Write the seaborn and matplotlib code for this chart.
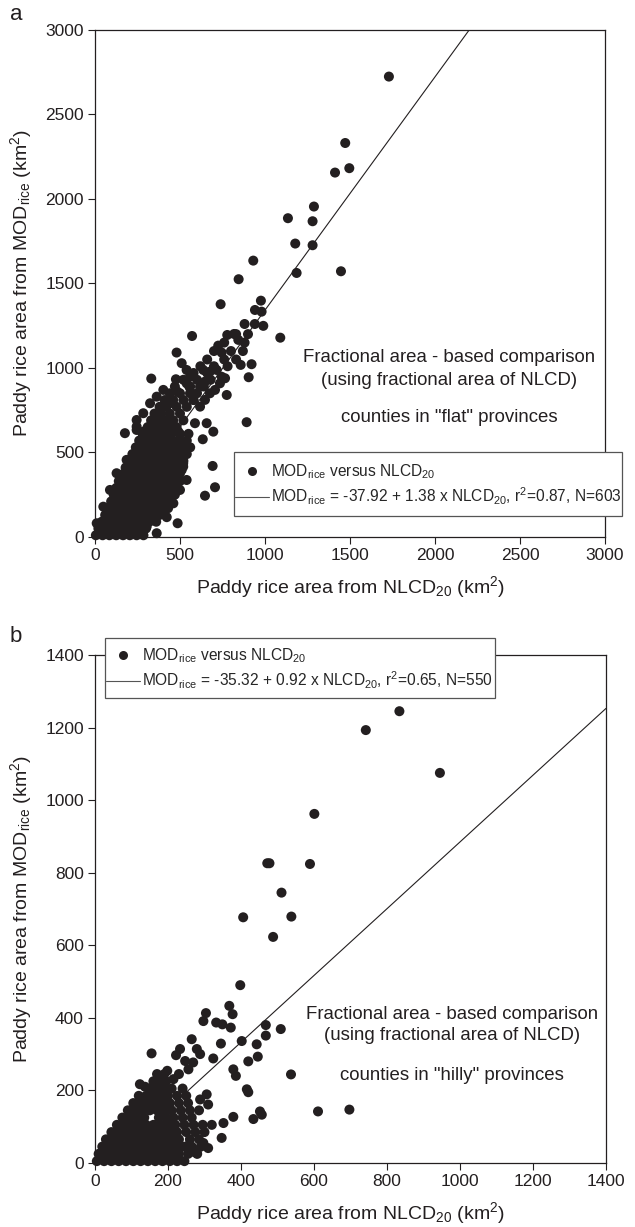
import matplotlib
matplotlib.use("Agg")
import matplotlib.pyplot as plt
import seaborn as sns
import pandas as pd
from matplotlib.lines import Line2D
from matplotlib.patches import Rectangle

# ---------------- data ----------------
# panel a: counties in "flat" provinces  (NLCD20 km2, MODrice km2)
flat_x = [
    1729, 1472, 1496, 1412, 1288, 1280, 1135, 1178, 1280, 931, 1186, 1447, 845,
    739, 976, 941, 980, 990, 1090, 571, 778, 818, 843, 725, 745, 480, 857, 921,
    904, 892, 331, 510, 539, 559, 637, 676, 716, 745, 775, 476, 484, 539, 555,
    402, 441, 363, 324, 284, 245, 176, 245, 588, 657, 696, 634, 692, 706, 647,
    486, 422, 539, 510, 441, 480, 519,
    618, 647, 676, 706, 735, 765, 618, 647, 559, 578,
    392, 431, 461, 490, 245, 284, 353, 304, 363, 422, 480, 519,
    186, 225, 265, 363, 441, 500, 127, 167, 245, 324, 402, 461, 500,
    88, 147, 206, 265, 343, 402, 461, 49, 108, 167, 225, 284, 343, 402,
    10, 69, 127, 186, 245, 304, 363,
    5, 45, 85, 125, 165, 205, 245, 285,
    20, 60, 100, 140, 180, 220, 260, 300,
    40, 80, 120, 160, 200, 240, 280, 320, 360,
    60, 100, 140, 180, 220, 260, 300, 340, 380,
    75, 115, 155, 195, 235, 275, 315, 355, 395, 430,
    95, 135, 175, 215, 255, 295, 335, 375, 415, 450,
    110, 150, 190, 230, 270, 310, 350, 390, 430, 470,
    125, 165, 205, 245, 285, 325, 365, 405, 445, 485,
    140, 180, 220, 260, 300, 340, 380, 420, 460, 500,
    160, 200, 240, 280, 320, 360, 400, 440, 480,
    180, 220, 260, 300, 340, 380, 420, 460, 500,
    200, 240, 280, 320, 360, 400, 440, 480, 520,
    220, 260, 300, 340, 380, 420, 460, 500, 540,
    240, 280, 320, 360, 400, 440, 480, 520, 560,
    260, 300, 340, 380, 420, 460, 500, 540,
    280, 320, 360, 400, 450, 500, 550,
    310, 350, 390, 430, 480,
    330, 370, 410, 460, 520,
    350, 390, 440, 500,
    380, 420, 480, 540,
    410, 460, 520, 580,
    440, 500, 600,
    470, 560, 640,
    520, 600, 680,
    580, 660,
    620, 700, 780,
    660, 760, 830,
    700, 800, 870,
    760, 880,
    830, 900,
    880, 940,
]
flat_y = [
    2724, 2331, 2182, 2156, 1955, 1868, 1886, 1736, 1726, 1635, 1562, 1572, 1525,
    1377, 1398, 1343, 1333, 1249, 1179, 1189, 1195, 1201, 1166, 1132, 1091, 1091, 1018, 1022,
    945, 679, 937, 1028, 988, 948, 988, 978, 988, 948, 840, 933, 860, 909, 889,
    870, 791, 830, 791, 732, 692, 614, 633, 673, 673, 623, 578, 420, 294, 244,
    81, 117, 337, 396, 515, 475, 416,
    771, 811, 850, 870, 909, 939, 889, 919, 850, 811,
    673, 692, 653, 623, 653, 623, 593, 515, 534, 495, 515, 436,
    456, 416, 436, 416, 396, 377, 377, 337, 337, 318, 337, 318, 278,
    278, 259, 278, 238, 238, 219, 199, 179, 160, 179, 140, 140, 120, 140,
    81, 61, 81, 41, 51, 61, 22,
    10, 10, 10, 10, 10, 10, 10, 10,
    50, 50, 50, 50, 50, 50, 50, 50,
    90, 90, 90, 90, 90, 90, 90, 90, 90,
    130, 130, 130, 130, 130, 130, 130, 130, 130,
    170, 170, 170, 170, 170, 170, 170, 170, 170, 170,
    210, 210, 210, 210, 210, 210, 210, 210, 210, 210,
    250, 250, 250, 250, 250, 250, 250, 250, 250, 250,
    290, 290, 290, 290, 290, 290, 290, 290, 290, 290,
    330, 330, 330, 330, 330, 330, 330, 330, 330, 330,
    370, 370, 370, 370, 370, 370, 370, 370, 370,
    410, 410, 410, 410, 410, 410, 410, 410, 410,
    450, 450, 450, 450, 450, 450, 450, 450, 450,
    490, 490, 490, 490, 490, 490, 490, 490, 490,
    530, 530, 530, 530, 530, 530, 530, 530, 530,
    570, 570, 570, 570, 570, 570, 570, 570,
    610, 610, 610, 610, 610, 610, 610,
    650, 650, 650, 650, 650,
    690, 690, 690, 690, 690,
    730, 730, 730, 730,
    770, 770, 770, 770,
    810, 810, 810, 810,
    850, 850, 850,
    890, 890, 890,
    930, 930, 930,
    970, 970,
    1010, 1010, 1010,
    1050, 1050, 1050,
    1100, 1100, 1100,
    1150, 1150,
    1200, 1200,
    1260, 1260,
]

# panel b: counties in "hilly" provinces
hilly_x = [
    834, 742, 945, 601, 472, 478, 589, 511, 406, 538, 488, 398,
    368, 377, 304, 297, 332, 349, 372, 468, 468, 509, 402, 345, 265, 155,
    443, 446, 420, 537, 611, 697, 379, 386, 416, 420, 452, 457, 434, 379,
    352, 347, 306, 288, 310, 183, 215, 198, 123, 137, 269, 279, 297, 310,
    251, 233, 222, 279, 288, 269, 256, 247, 324,
    5, 25, 45, 65, 85, 105, 125, 145, 165, 185, 205, 225, 245,
    10, 30, 50, 70, 90, 110, 130, 150, 170, 190, 210, 230, 255, 280,
    20, 40, 60, 80, 100, 120, 140, 160, 180, 200, 220, 240, 265, 290,
    30, 50, 70, 90, 110, 130, 150, 170, 190, 210, 230, 260, 285,
    45, 65, 85, 105, 125, 145, 165, 185, 205, 225, 250, 275, 300,
    60, 80, 100, 120, 140, 160, 180, 200, 220, 245, 270, 295, 320,
    75, 95, 115, 135, 175, 195, 215, 240, 265,
    90, 110, 130, 150, 170, 190, 210, 235, 260, 285,
    105, 125, 145, 165, 185, 205, 230, 255,
    120, 140, 160, 180, 200, 225, 250,
    150, 170, 190, 210, 240,
    160, 175, 195,
    170, 190, 230,
]
hilly_y = [
    1245, 1193, 1075, 962, 826, 826, 824, 745, 677, 679, 623, 490,
    433, 410, 413, 391, 387, 382, 373, 380, 351, 369, 336, 329, 341, 302,
    327, 293, 280, 244, 142, 147, 258, 240, 203, 195, 142, 133, 121, 127,
    110, 69, 189, 175, 161, 235, 231, 254, 217, 210, 31, 27, 55, 41,
    46, 314, 297, 314, 300, 277, 258, 281, 288,
    5, 5, 5, 5, 5, 5, 5, 5, 5, 5, 5, 5, 5,
    25, 25, 25, 25, 25, 25, 25, 25, 25, 25, 25, 25, 25, 25,
    45, 45, 45, 45, 45, 45, 45, 45, 45, 45, 45, 45, 45, 45,
    65, 65, 65, 65, 65, 65, 65, 65, 65, 65, 65, 65, 65,
    85, 85, 85, 85, 85, 85, 85, 85, 85, 85, 85, 85, 85,
    105, 105, 105, 105, 105, 105, 105, 105, 105, 105, 105, 105, 105,
    125, 125, 125, 125, 125, 125, 125, 125, 125,
    145, 145, 145, 145, 145, 145, 145, 145, 145, 145,
    165, 165, 165, 165, 165, 165, 165, 165,
    185, 185, 185, 185, 185, 185, 185,
    205, 205, 205, 205, 205,
    225, 225, 225,
    245, 245, 245,
]

flat_fit = (-37.92, 1.38)      # intercept, slope
hilly_fit = (-35.32, 0.92)
flat_ticks = [0, 500, 1000, 1500, 2000, 2500, 3000]
hilly_ticks = [0, 200, 400, 600, 800, 1000, 1200, 1400]

flat_eq = r"MOD$_{\rm rice}$ = -37.92 + 1.38 x NLCD$_{\rm 20}$, r$^{\rm 2}$=0.87, N=603"
hilly_eq = r"MOD$_{\rm rice}$ = -35.32 + 0.92 x NLCD$_{\rm 20}$, r$^{\rm 2}$=0.65, N=550"
dot_label = r"MOD$_{\rm rice}$ versus NLCD$_{\rm 20}$"
xlab = r"Paddy rice area from NLCD$_{\rm 20}$ (km$^{\rm 2}$)"
ylab = r"Paddy rice area from MOD$_{\rm rice}$ (km$^{\rm 2}$)"
note1 = "Fractional area - based comparison"
note2 = "(using fractional area of NLCD)"
flat_note = 'counties in "flat" provinces'
hilly_note = 'counties in "hilly" provinces'

# ---------------- style ----------------
sns.set_style("ticks")
plt.rcParams["font.family"] = ["Liberation Sans", "DejaVu Sans"]
plt.rcParams["mathtext.fontset"] = "custom"
plt.rcParams["mathtext.rm"] = "Liberation Sans"
plt.rcParams["mathtext.it"] = "Liberation Sans:italic"
plt.rcParams["mathtext.bf"] = "Liberation Sans:bold"

INK = "#231f20"
W, H = 635, 1227

fig = plt.figure(figsize=(6.35, 12.27), dpi=100)
ax1 = fig.add_axes([0.1496, 0.5624, 0.8031, 0.4132])
ax2 = fig.add_axes([0.1496, 0.0522, 0.8047, 0.4140])


def draw(ax, xs, ys, fit, ticks, eq, note3, box, note_pos):
    df = pd.DataFrame({"x": xs, "y": ys})
    sns.scatterplot(data=df, x="x", y="y", ax=ax, color=INK, s=52,
                    edgecolor="none", linewidth=0, clip_on=False, zorder=3)
    lim = ticks[-1]
    lx = [0, lim]
    ly = [fit[0] + fit[1] * v for v in lx]
    ax.plot(lx, ly, color=INK, lw=0.8, zorder=4)
    ax.set_xlim(0, lim)
    ax.set_ylim(0, lim)
    ax.set_xticks(ticks)
    ax.set_yticks(ticks)
    ax.set_xticklabels([str(t) for t in ticks])
    ax.set_yticklabels([str(t) for t in ticks])
    ax.tick_params(direction="out", length=5, width=0.8, colors=INK,
                   labelsize=12.5, pad=3)
    for sp in ax.spines.values():
        sp.set_linewidth(0.9)
        sp.set_color(INK)
    ax.set_xlabel(xlab, fontsize=14, color=INK, labelpad=8)
    ax.set_ylabel(ylab, fontsize=14, color=INK, labelpad=8)

    # legend frame drawn as a rectangle (pixel box)
    x0, y0, x1, y1 = box
    rect = Rectangle((x0 / W, 1 - y1 / H), (x1 - x0) / W, (y1 - y0) / H,
                     transform=fig.transFigure, facecolor="white",
                     edgecolor="#555555", linewidth=0.9, zorder=9,
                     clip_on=False)
    ax.add_patch(rect)
    handles = [Line2D([], [], marker="o", ls="none", color=INK, markersize=6.5,
                      markeredgewidth=0),
               Line2D([], [], color="#555555", lw=0.8)]
    leg = ax.legend(handles, [dot_label, eq], loc="center left",
                    bbox_to_anchor=((x0 + 1) / W, 1 - ((y0 + y1) / 2 + 1) / H),
                    bbox_transform=fig.transFigure, borderaxespad=0,
                    fontsize=11.2, frameon=False, handlelength=2.2,
                    handletextpad=0.12, borderpad=0, labelspacing=0.3)
    leg.set_zorder(10)
    cx, ya, yb, yc = note_pos
    for txt, yy in ((note1, ya), (note2, yb), (note3, yc)):
        ax.text(cx, yy, txt, transform=ax.transAxes, ha="center", va="center",
                fontsize=13.4, color=INK)


draw(ax1, flat_x, flat_y, flat_fit, flat_ticks, flat_eq, flat_note,
     (234, 452, 622, 516), (0.695, 0.353, 0.308, 0.235))
draw(ax2, hilly_x, hilly_y, hilly_fit, hilly_ticks, hilly_eq, hilly_note,
     (105, 638, 495, 698), (0.699, 0.293, 0.250, 0.173))

fig.text(10 / W, 1 - 14 / H, "a", fontsize=16, color=INK, ha="left", va="center")
fig.text(10 / W, 1 - 637 / H, "b", fontsize=16, color=INK, ha="left", va="center")

fig.savefig("out.png", dpi=100)
